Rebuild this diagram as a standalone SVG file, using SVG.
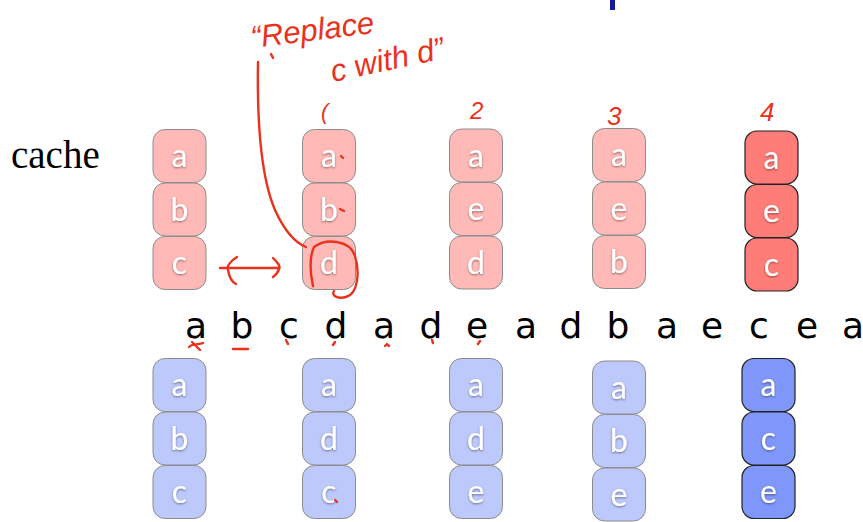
<svg xmlns="http://www.w3.org/2000/svg" width="863" height="522" viewBox="0 0 863 522">
<defs>
<style>
.b{stroke:#8c8c8c;stroke-width:1}
.r{fill:#ffb9b6}
.R{fill:#ff7d78;stroke:#222;stroke-width:1.2}
.u{fill:#bdc8fb}
.U{fill:#7f97fa;stroke:#222;stroke-width:1.2}
.t{font-family:Lato,"Open Sans",sans-serif;font-size:32px;fill:#fff;text-anchor:middle;filter:url(#sh)}
.seq{font-family:"DejaVu Sans",sans-serif;font-size:36px;fill:#000;text-anchor:middle}
.hw{font-family:"Liberation Sans",sans-serif;fill:#e8321e;font-style:italic}
.ink{fill:none;stroke:#e8321e;stroke-width:2.4;stroke-linecap:round;stroke-linejoin:round}
</style>
<filter id="sh" x="-50%" y="-50%" width="200%" height="200%">
<feDropShadow dx="0" dy="1" stdDeviation="1.2" flood-color="#000" flood-opacity="0.45"/>
</filter>
</defs>
<rect width="863" height="522" fill="#fff"/>
<rect x="610" y="0" width="5" height="10" fill="#15199a"/>
<text x="11" y="168" font-family="Liberation Serif,serif" font-size="39" fill="#000">cache</text>

<g id="top1">
<rect class="b r" x="153" y="129.5" width="53" height="53" rx="12"/><text class="t" x="179.5" y="167">a</text>
<rect class="b r" x="153" y="183" width="53" height="53" rx="12"/><text class="t" x="179.5" y="221">b</text>
<rect class="b r" x="153" y="236.5" width="53" height="53" rx="12"/><text class="t" x="179.5" y="274">c</text>
</g>
<g id="top2">
<rect class="b r" x="302.5" y="129.5" width="53" height="53" rx="12"/><text class="t" x="329" y="167">a</text>
<rect class="b r" x="302.5" y="183" width="53" height="53" rx="12"/><text class="t" x="329" y="221">b</text>
<rect class="b r" x="302.5" y="236.5" width="53" height="53" rx="12"/><text class="t" x="329" y="274">d</text>
</g>
<g id="top3">
<rect class="b r" x="449.5" y="129" width="53" height="53" rx="12"/><text class="t" x="476" y="167">a</text>
<rect class="b r" x="449.5" y="182.5" width="53" height="53" rx="12"/><text class="t" x="476" y="220">e</text>
<rect class="b r" x="449.5" y="236" width="53" height="53" rx="12"/><text class="t" x="476" y="274">d</text>
</g>
<g id="top4">
<rect class="b r" x="592.5" y="128.5" width="53" height="53" rx="12"/><text class="t" x="619" y="166">a</text>
<rect class="b r" x="592.5" y="182" width="53" height="53" rx="12"/><text class="t" x="619" y="220">e</text>
<rect class="b r" x="592.5" y="235.5" width="53" height="53" rx="12"/><text class="t" x="619" y="273">b</text>
</g>
<g id="top5">
<rect class="R" x="745" y="131" width="53" height="53" rx="12"/><text class="t" x="771.5" y="169">a</text>
<rect class="R" x="745" y="184.5" width="53" height="53" rx="12"/><text class="t" x="771.5" y="222">e</text>
<rect class="R" x="745" y="238" width="53" height="53" rx="12"/><text class="t" x="771.5" y="276">c</text>
</g>

<g id="bot1">
<rect class="b u" x="153" y="358.5" width="53" height="53" rx="12"/><text class="t" x="179.5" y="396">a</text>
<rect class="b u" x="153" y="412" width="53" height="53" rx="12"/><text class="t" x="179.5" y="450">b</text>
<rect class="b u" x="153" y="465.5" width="53" height="53" rx="12"/><text class="t" x="179.5" y="503">c</text>
</g>
<g id="bot2">
<rect class="b u" x="302.5" y="358.5" width="53" height="53" rx="12"/><text class="t" x="329" y="396">a</text>
<rect class="b u" x="302.5" y="412" width="53" height="53" rx="12"/><text class="t" x="329" y="450">d</text>
<rect class="b u" x="302.5" y="465.5" width="53" height="53" rx="12"/><text class="t" x="329" y="503">c</text>
</g>
<g id="bot3">
<rect class="b u" x="449.5" y="358.5" width="53" height="53" rx="12"/><text class="t" x="476" y="396">a</text>
<rect class="b u" x="449.5" y="412" width="53" height="53" rx="12"/><text class="t" x="476" y="450">d</text>
<rect class="b u" x="449.5" y="465.5" width="53" height="53" rx="12"/><text class="t" x="476" y="503">e</text>
</g>
<g id="bot4">
<rect class="b u" x="592.5" y="361" width="53" height="53" rx="12"/><text class="t" x="619" y="399">a</text>
<rect class="b u" x="592.5" y="414.5" width="53" height="53" rx="12"/><text class="t" x="619" y="452">b</text>
<rect class="b u" x="592.5" y="468" width="53" height="53" rx="12"/><text class="t" x="619" y="506">e</text>
</g>
<g id="bot5">
<rect class="U" x="742" y="358.5" width="53" height="53" rx="12"/><text class="t" x="768.5" y="396">a</text>
<rect class="U" x="742" y="412" width="53" height="53" rx="12"/><text class="t" x="768.5" y="450">c</text>
<rect class="U" x="742" y="465.5" width="53" height="53" rx="12"/><text class="t" x="768.5" y="503">e</text>
</g>

<g id="sequence">
<text class="seq" x="196 242 289 336 384 431 477 526 571 618 667 712 759 807 853" y="338">abcdadeadbaecea</text>
</g>

<g id="annotations">
<text class="hw" x="0" y="0" font-size="31" transform="translate(252 48) rotate(-7)">“Replace</text>
<text class="hw" x="0" y="0" font-size="31" transform="translate(333 82) rotate(-12)">c with d”</text>
<text class="hw" x="321" y="119" font-size="22">(</text>
<text class="hw" x="470" y="119" font-size="24">2</text>
<text class="hw" x="607" y="125" font-size="26">3</text>
<text class="hw" x="760" y="121" font-size="26">4</text>
</g>

<g id="connectors">
<path class="ink" d="M258,62 C257,120 260,175 275,210 C285,232 296,243 306,247"/>
<path class="ink" d="M271,54 L273,58"/>
<path class="ink" d="M313,286 C310,272 309,258 314,247 C326,238 350,240 355,256 C360,272 358,294 346,297 C338,299 331,296 334,291"/>
<path class="ink" d="M220,268 L279,268"/>
<path class="ink" d="M237,257 C232,260 226,266 228,270 C229,276 232,282 236,284"/>
<path class="ink" d="M273,258 C277,262 281,266 279,269 C278,272 276,275 273,277"/>
<path class="ink" d="M341,156 L343,158"/>
<path class="ink" d="M340,209 L344,211"/>
<path class="ink" d="M189,347 C193,343 199,345 203,343 M192,342 L200,350"/>
<path class="ink" d="M233,349 L248,349"/>
<path class="ink" d="M286,340 L288,344"/>
<path class="ink" d="M333,345 L335,342"/>
<path class="ink" d="M385,346 L387,344 L389,346"/>
<path class="ink" d="M432,340 L433,343"/>
<path class="ink" d="M478,344 L480,341"/>
<path class="ink" d="M335,500 L337,502"/>
</g>
</svg>
